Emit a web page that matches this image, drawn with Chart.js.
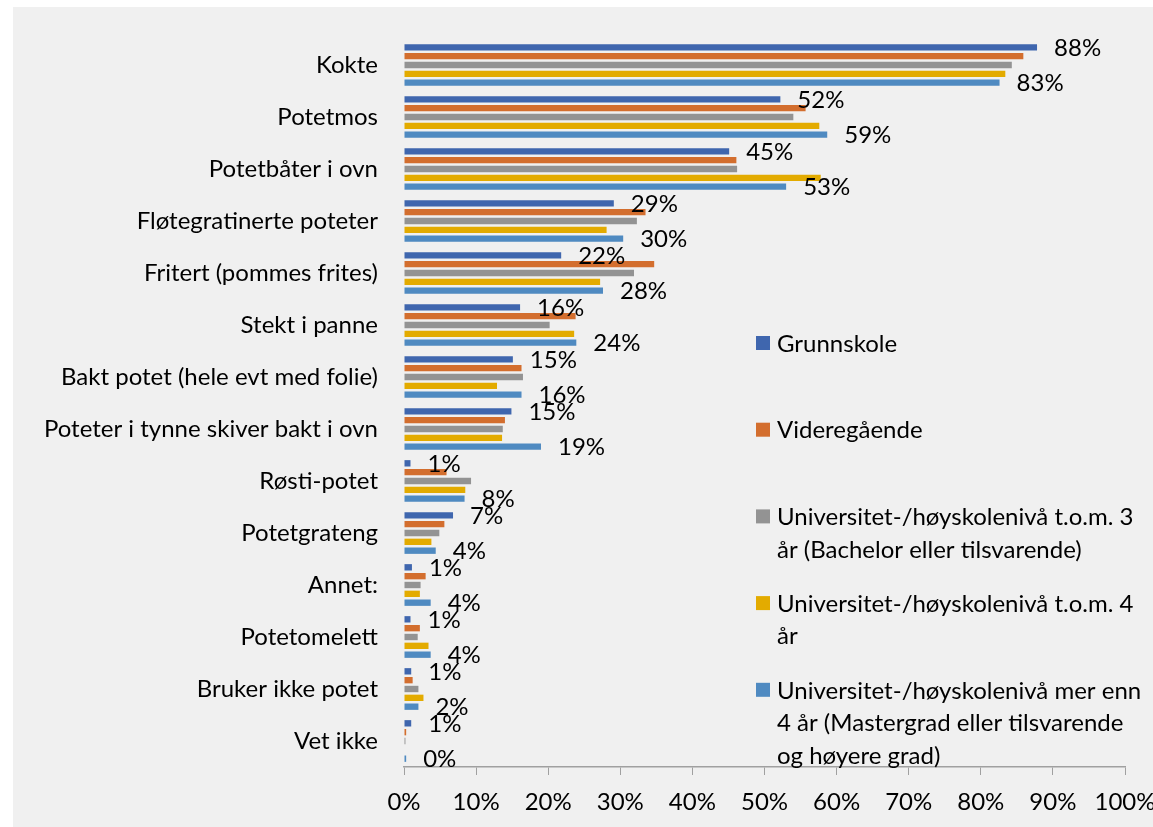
<!DOCTYPE html>
<html>
<head>
<meta charset="utf-8">
<script src="https://cdn.jsdelivr.net/npm/chart.js@4.4.1/dist/chart.umd.min.js"></script>
<style>
  body { margin: 0; background: #fff; }
  .wrap { width: 1153px; height: 827px; position: relative; }
</style>
</head>
<body>
<div class="wrap"><canvas id="myChart"></canvas></div>
<script>
// potato preparation, share of answers by education level
const categories = [
    'Kokte',
    'Potetmos',
    'Potetbåter i ovn',
    'Fløtegratinerte poteter',
    'Fritert (pommes frites)',
    'Stekt i panne',
    'Bakt potet (hele evt med folie)',
    'Poteter i tynne skiver bakt i ovn',
    'Røsti-potet',
    'Potetgrateng',
    'Annet:',
    'Potetomelett',
    'Bruker ikke potet',
    'Vet ikke'
];

const grunnskole = [87.8, 52.2, 45.1, 29.1, 21.8, 16.1, 15.1, 14.9, 0.9, 6.8, 1.1, 0.9, 1.0, 1.0];
const videregaende = [85.9, 55.7, 46.1, 33.5, 34.7, 23.8, 16.3, 14.0, 5.9, 5.6, 3.0, 2.2, 1.2, 0.3];
const uni3 = [84.3, 54.0, 46.2, 32.3, 31.9, 20.2, 16.5, 13.7, 9.3, 4.9, 2.3, 1.9, 2.0, 0.2];
const uni4 = [83.4, 57.6, 57.8, 28.1, 27.2, 23.6, 12.9, 13.6, 8.5, 3.8, 2.2, 3.4, 2.7, 0];
const uniMer = [82.6, 58.7, 53.0, 30.4, 27.6, 23.9, 16.3, 19.0, 8.4, 4.4, 3.7, 3.7, 2.0, 0.3];

const xTicks = [0, 10, 20, 30, 40, 50, 60, 70, 80, 90, 100];

// legend text, already broken into lines
const seriesLines = [
    ['Grunnskole'],
    ['Videregående'],
    ['Universitet-/høyskolenivå t.o.m. 3', 'år (Bachelor eller tilsvarende)'],
    ['Universitet-/høyskolenivå t.o.m. 4', 'år'],
    ['Universitet-/høyskolenivå mer enn', '4 år (Mastergrad eller tilsvarende', 'og høyere grad)']
];
const colors = ['#3f66ae', '#d36e2e', '#939393', '#e3ab00', '#4f8ac1'];
const seriesData = [grunnskole, videregaende, uni3, uni4, uniMer];
// which series get a value label
const labelled = [0, 4];

const FONT = 'Lato';
const FSIZE = 24;

const bgPlugin = {
    id: 'bg',
    beforeDraw(chart) {
        const ctx = chart.ctx;
        ctx.save();
        ctx.fillStyle = '#ffffff';
        ctx.fillRect(0, 0, chart.width, chart.height);
        ctx.fillStyle = '#f0f0f0';
        ctx.fillRect(13, 7, chart.width - 13, chart.height - 7);
        ctx.restore();
    }
};

const valueLabels = {
    id: 'valueLabels',
    afterDatasetsDraw(chart) {
        const ctx = chart.ctx;
        ctx.save();
        ctx.font = FSIZE + 'px ' + FONT;
        ctx.fillStyle = '#000';
        ctx.textAlign = 'left';
        ctx.textBaseline = 'middle';
        labelled.forEach(di => {
            const meta = chart.getDatasetMeta(di);
            meta.data.forEach((bar, i) => {
                const v = chart.data.datasets[di].data[i];
                ctx.fillText(Math.round(v) + '%', bar.x + 17, bar.y + 1);
            });
        });
        ctx.restore();
    }
};

const sideLegend = {
    id: 'sideLegend',
    afterDraw(chart) {
        const ctx = chart.ctx;
        ctx.save();
        ctx.font = FSIZE + 'px ' + FONT;
        ctx.textBaseline = 'middle';
        ctx.textAlign = 'left';
        let y = 343;
        seriesLines.forEach((lines, i) => {
            ctx.fillStyle = colors[i];
            ctx.fillRect(756, y - 7, 14, 14);
            ctx.fillStyle = '#000';
            lines.forEach((t, k) => ctx.fillText(t, 777, y + k * 32.5 + 1));
            y += 86.7;
        });
        ctx.restore();
    }
};

const data = {
    labels: categories,
    datasets: seriesData.map((d, i) => ({
        label: seriesLines[i].join(' '),
        data: d,
        backgroundColor: colors[i],
        categoryPercentage: 0.85,
        barPercentage: 0.72
    }))
};

const config = {
    type: 'bar',
    data: data,
    options: {
        indexAxis: 'y',
        responsive: true,
        maintainAspectRatio: false,
        animation: false,
        layout: {
            padding: { top: 39, right: 28, left: 0, bottom: 0 }
        },
        plugins: {
            legend: { display: false },
            tooltip: { enabled: false }
        },
        scales: {
            x: {
                min: 0,
                max: 100,
                afterBuildTicks: s => { s.ticks = xTicks.map(v => ({ value: v })); },
                afterFit: s => {
                    s.height = 60;
                    s.paddingLeft = 0;
                    s.paddingRight = 0;
                },
                grid: { drawOnChartArea: false, drawTicks: true, tickLength: 8, color: '#a0a0a0' },
                border: { display: true, color: '#a0a0a0', width: 1.5 },
                ticks: {
                    callback: v => v + '%',
                    color: '#000',
                    padding: 13,
                    maxRotation: 0,
                    font: { family: FONT, size: FSIZE }
                }
            },
            y: {
                afterFit: s => { s.width = 404; },
                grid: { display: false },
                border: { display: false },
                ticks: {
                    color: '#000',
                    padding: 18,
                    autoSkip: false,
                    font: { family: FONT, size: FSIZE }
                }
            }
        }
    },
    plugins: [bgPlugin, valueLabels, sideLegend]
};

new Chart(document.getElementById('myChart'), config);
</script>
</body>
</html>
